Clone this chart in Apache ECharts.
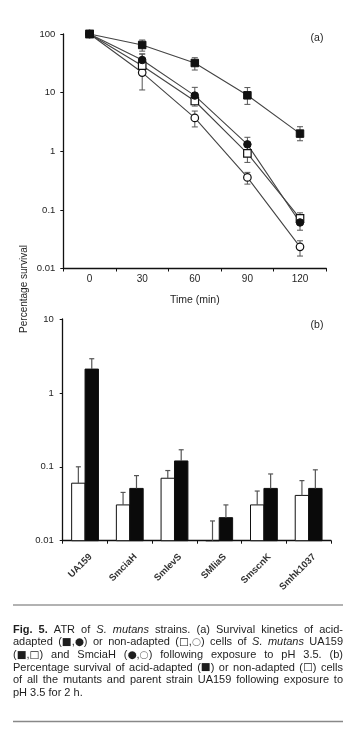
<!DOCTYPE html>
<html>
<head>
<meta charset="utf-8">
<script src="https://cdn.jsdelivr.net/npm/echarts@6/dist/echarts.min.js"></script>
<style>
html,body{margin:0;padding:0;background:#fff;}
#c{width:350px;height:731px;}
</style>
</head>
<body>
<div id="c"></div>
<script>
// ---------- Panel (a): survival kinetics ----------
const timePoints = ['0', '30', '60', '90', '120'];
const ua159Adapted      = [100, 65, 32, 9.0, 2.0];
const ua159AdaptedLow   = [null, 51, 24.3, 6.3, 1.51];
const ua159AdaptedHigh  = [null, 79, 39.4, 12.2, 2.62];
const smciaHAdapted     = [100, 36, 8.9, 1.31, 0.061];
const smciaHAdaptedLow  = [null, 27, 6.8, 1.0, 0.045];
const smciaHAdaptedHigh = [null, 45.6, 12.3, 1.73, 0.08];
const ua159Non          = [100, 28.8, 7.2, 0.92, 0.0716];
const ua159NonLow       = [null, 21, 5.9, 0.645, 0.058];
const ua159NonHigh      = [null, 36, 9.5, 1.2, 0.089];
const smciaHNon         = [100, 22, 3.7, 0.358, 0.0234];
const smciaHNonLow      = [null, 11.1, 2.6, 0.275, 0.0163];
const smciaHNonHigh     = [null, 45.6, 4.85, 0.436, 0.0297];
const yTicksA = [0.01, 0.1, 1, 10, 100];

// ---------- Panel (b): survival after 2 h ----------
const strains = ['UA159', 'SmciaH', 'SmlevS', 'SMliaS', 'SmscnK', 'Smhk1037'];
const nonAdapted     = [0.06, 0.0305, 0.07, 0.01, 0.0305, 0.041];
const nonAdaptedHigh = [0.10, 0.045, 0.089, 0.0185, 0.047, 0.065];
const adapted        = [2.1, 0.051, 0.12, 0.0205, 0.051, 0.051];
const adaptedHigh    = [2.9, 0.076, 0.17, 0.0305, 0.080, 0.091];
const yTicksB = [0.01, 0.1, 1, 10];

// ---------- Caption ----------
const captionLines = [
  '**Fig.** **5.** ATR of *S.* *mutans* strains. (a) Survival kinetics of acid-',
  'adapted (■,●) or non-adapted (□,○) cells of *S.* *mutans* UA159',
  '(■,□) and SmciaH (●,○) following exposure to pH 3.5. (b)',
  'Percentage survival of acid-adapted (■) or non-adapted (□) cells',
  'of all the mutants and parent strain UA159 following exposure to',
  'pH 3.5 for 2 h.'
];

const FONT = 'Liberation Sans, Arial, Helvetica, sans-serif';
const SYMFONT = 'DejaVu Sans, sans-serif';
const TXT = '#1e1e1e';

function errPairs(lo, hi) {
  const out = [];
  lo.forEach((l, i) => { if (l != null) out.push([i, l, hi[i]]); });
  return out;
}

function renderRangeErr(params, api) {
  const x = api.value(0);
  const pLo = api.coord([x, api.value(1)]);
  const pHi = api.coord([x, api.value(2)]);
  const cw = 3;
  const st = { stroke: '#555', lineWidth: 1 };
  return { type: 'group', children: [
    { type: 'line', shape: { x1: pLo[0], y1: pLo[1], x2: pHi[0], y2: pHi[1] }, style: st },
    { type: 'line', shape: { x1: pLo[0] - cw, y1: pLo[1], x2: pLo[0] + cw, y2: pLo[1] }, style: st },
    { type: 'line', shape: { x1: pHi[0] - cw, y1: pHi[1], x2: pHi[0] + cw, y2: pHi[1] }, style: st }
  ]};
}

function makeBar(sign, fill) {
  return function (params, api) {
    const x = api.value(0);
    const catW = api.size([1, 0])[0];
    const bw = 0.3 * catW;
    const base = api.coord([x, yTicksB[0]]);
    const top = api.coord([x, api.value(1)]);
    const cx = base[0] + sign * 0.15 * catW;
    return { type: 'rect',
      shape: { x: cx - bw / 2, y: top[1], width: bw, height: base[1] - top[1] },
      style: { fill: fill, stroke: '#111', lineWidth: 1 } };
  };
}

function makeBarErr(sign) {
  return function (params, api) {
    const x = api.value(0);
    const catW = api.size([1, 0])[0];
    const off = sign * 0.15 * catW;
    const pLo = api.coord([x, api.value(1)]);
    const pHi = api.coord([x, api.value(2)]);
    const cx = pLo[0] + off;
    const cw = 2.5;
    const st = { stroke: '#555', lineWidth: 1.2 };
    return { type: 'group', children: [
      { type: 'line', shape: { x1: cx, y1: pLo[1], x2: cx, y2: pHi[1] }, style: st },
      { type: 'line', shape: { x1: cx - cw, y1: pHi[1], x2: cx + cw, y2: pHi[1] }, style: st }
    ]};
  };
}

function logFmt(v) { return String(+Number(v).toPrecision(3)); }

function lineSeries(name, data, symbol, filled) {
  return {
    name: name, type: 'line', xAxisIndex: 0, yAxisIndex: 0, data: data,
    symbol: symbol, symbolSize: 7.5, z: 3,
    lineStyle: { color: '#444', width: 1.1 },
    itemStyle: filled ? { color: '#111', borderColor: '#111', borderWidth: 1 }
                      : { color: '#fff', borderColor: '#111', borderWidth: 1.2 }
  };
}

// ----- caption graphics (justified) -----
const measureCtx = document.createElement('canvas').getContext('2d');
const SYM_RE = /([■□●○])/;
function runStyle(base, piece) {
  if (SYM_RE.test(piece) && piece.length === 1) {
    return Object.assign({}, base, { fontFamily: SYMFONT, fill: piece === '○' ? '#777' : TXT, symScale: 0.95 });
  }
  return Object.assign({}, base, { fontFamily: FONT, fill: TXT });
}
function measure(st, sz, t) {
  measureCtx.font = (st.fontStyle || 'normal') + ' ' + (st.fontWeight || 'normal') + ' ' +
    (st.symScale ? sz * st.symScale : sz) + 'px ' + st.fontFamily;
  return measureCtx.measureText(t).width;
}
function parseLine(line, sz) {
  return line.split(' ').map(w => {
    let st = {};
    if (w.startsWith('**')) { w = w.slice(2, -2); st = { fontWeight: 'bold' }; }
    else if (w.startsWith('*')) { w = w.slice(1, -1); st = { fontStyle: 'italic' }; }
    const runs = w.split(SYM_RE).filter(p => p.length).map(p => {
      const rs = runStyle(st, p);
      return { t: p, st: rs, w: measure(rs, sz, p) };
    });
    return { runs: runs, w: runs.reduce((a, b) => a + b.w, 0) };
  });
}
function naturalWidth(line, sz) {
  const ws = parseLine(line, sz);
  const sp = measure({ fontFamily: FONT }, sz, ' ');
  return ws.reduce((a, b) => a + b.w, 0) + sp * (ws.length - 1);
}
function buildCaption() {
  const els = [];
  const x0 = 13, W = 330, y0 = 629.5, lh = 12.7;
  let maxW = 0;
  captionLines.slice(0, -1).forEach(l => { maxW = Math.max(maxW, naturalWidth(l, 10)); });
  const sz = Math.min(11, 10 * W / maxW * 0.985);
  captionLines.forEach((line, li) => {
    const words = parseLine(line, sz);
    const space = measure({ fontFamily: FONT }, sz, ' ');
    const total = words.reduce((a, b) => a + b.w, 0);
    const last = li === captionLines.length - 1;
    const gap = last ? space : (W - total) / (words.length - 1);
    let x = x0;
    const y = y0 + li * lh;
    words.forEach(wd => {
      let rx = x;
      wd.runs.forEach(r => {
        const s = {
          text: r.t, fontSize: r.st.symScale ? sz * r.st.symScale : sz,
          fontFamily: r.st.fontFamily, fill: r.st.fill, align: 'left', verticalAlign: 'middle'
        };
        if (r.st.fontWeight) s.fontWeight = r.st.fontWeight;
        if (r.st.fontStyle) s.fontStyle = r.st.fontStyle;
        els.push({ type: 'text', x: rx, y: y, silent: true, style: s });
        rx += r.w;
      });
      x += wd.w + gap;
    });
  });
  return els;
}

const chart = echarts.init(document.getElementById('c'), null, { renderer: 'canvas' });

const axisLineStyle = { color: '#111', width: 1.3 };

const option = {
  animation: false,
  backgroundColor: '#fff',
  grid: [
    { left: 63.3, top: 34, width: 263, height: 234.5 },
    { left: 62.7, top: 319, width: 268.3, height: 221.7 }
  ],
  xAxis: [
    {
      gridIndex: 0, type: 'category', data: timePoints, boundaryGap: true,
      name: 'Time (min)', nameLocation: 'middle', nameGap: 26,
      nameTextStyle: { fontSize: 10.5, color: TXT, fontFamily: FONT },
      axisLine: { lineStyle: axisLineStyle },
      axisTick: { show: true, interval: 0, length: 3, lineStyle: { color: '#111' } },
      axisLabel: { fontSize: 10, color: TXT, fontFamily: FONT, margin: 6 },
      splitLine: { show: false }
    },
    {
      gridIndex: 1, type: 'category', data: strains, boundaryGap: true,
      axisLine: { lineStyle: axisLineStyle },
      axisTick: { show: true, interval: 0, length: 3, lineStyle: { color: '#111' } },
      axisLabel: { fontSize: 9.5, fontWeight: 'bold', color: '#333', fontFamily: FONT, rotate: 45,
                   margin: 9, interval: 0, verticalAlign: 'top', padding: [3, 0, 0, 0] },
      splitLine: { show: false }
    }
  ],
  yAxis: [
    {
      gridIndex: 0, type: 'log', logBase: 10, min: yTicksA[0], max: yTicksA[yTicksA.length - 1],
      axisLine: { show: true, lineStyle: axisLineStyle },
      axisTick: { show: true, length: 3, lineStyle: { color: '#111' } },
      minorTick: { show: false },
      axisLabel: { fontSize: 9.5, color: TXT, fontFamily: FONT, margin: 8, formatter: logFmt },
      splitLine: { show: false }
    },
    {
      gridIndex: 1, type: 'log', logBase: 10, min: yTicksB[0], max: yTicksB[yTicksB.length - 1],
      axisLine: { show: true, lineStyle: axisLineStyle },
      axisTick: { show: true, length: 3, lineStyle: { color: '#111' } },
      minorTick: { show: false },
      axisLabel: { fontSize: 9.5, color: TXT, fontFamily: FONT, margin: 9, formatter: logFmt },
      splitLine: { show: false }
    }
  ],
  series: [
    { type: 'custom', xAxisIndex: 0, yAxisIndex: 0, renderItem: renderRangeErr, z: 2,
      data: errPairs(smciaHNonLow, smciaHNonHigh) },
    { type: 'custom', xAxisIndex: 0, yAxisIndex: 0, renderItem: renderRangeErr, z: 2,
      data: errPairs(ua159NonLow, ua159NonHigh) },
    { type: 'custom', xAxisIndex: 0, yAxisIndex: 0, renderItem: renderRangeErr, z: 2,
      data: errPairs(smciaHAdaptedLow, smciaHAdaptedHigh) },
    { type: 'custom', xAxisIndex: 0, yAxisIndex: 0, renderItem: renderRangeErr, z: 2,
      data: errPairs(ua159AdaptedLow, ua159AdaptedHigh) },
    lineSeries('SmciaH non-adapted', smciaHNon, 'circle', false),
    lineSeries('UA159 non-adapted', ua159Non, 'rect', false),
    lineSeries('SmciaH acid-adapted', smciaHAdapted, 'circle', true),
    lineSeries('UA159 acid-adapted', ua159Adapted, 'rect', true),

    { name: 'Non-adapted', type: 'custom', xAxisIndex: 1, yAxisIndex: 1, z: 2,
      renderItem: makeBar(-1, '#fff'), data: nonAdapted.map((v, i) => [i, v]) },
    { name: 'Acid-adapted', type: 'custom', xAxisIndex: 1, yAxisIndex: 1, z: 2,
      renderItem: makeBar(1, '#0a0a0a'), data: adapted.map((v, i) => [i, v]) },
    { type: 'custom', xAxisIndex: 1, yAxisIndex: 1, renderItem: makeBarErr(-1), z: 3,
      data: nonAdapted.map((v, i) => [i, v, nonAdaptedHigh[i]]) },
    { type: 'custom', xAxisIndex: 1, yAxisIndex: 1, renderItem: makeBarErr(1), z: 3,
      data: adapted.map((v, i) => [i, v, adaptedHigh[i]]) }
  ],
  graphic: [
    { type: 'text', x: 317, y: 38, silent: true,
      style: { text: '(a)', fontSize: 10.5, fontFamily: FONT, fill: TXT, align: 'center', verticalAlign: 'middle' } },
    { type: 'text', x: 317, y: 325, silent: true,
      style: { text: '(b)', fontSize: 10.5, fontFamily: FONT, fill: TXT, align: 'center', verticalAlign: 'middle' } },
    { type: 'text', x: 24.5, y: 289, rotation: Math.PI / 2, silent: true,
      style: { text: 'Percentage survival', fontSize: 10, fontFamily: FONT, fill: TXT, align: 'center', verticalAlign: 'middle' } },
    { type: 'line', silent: true, shape: { x1: 13, y1: 605, x2: 343, y2: 605 },
      style: { stroke: '#999', lineWidth: 1.6 } },
    { type: 'line', silent: true, shape: { x1: 13, y1: 721.5, x2: 343, y2: 721.5 },
      style: { stroke: '#888', lineWidth: 1.6 } }
  ].concat(buildCaption())
};

chart.setOption(option);
</script>
</body>
</html>
